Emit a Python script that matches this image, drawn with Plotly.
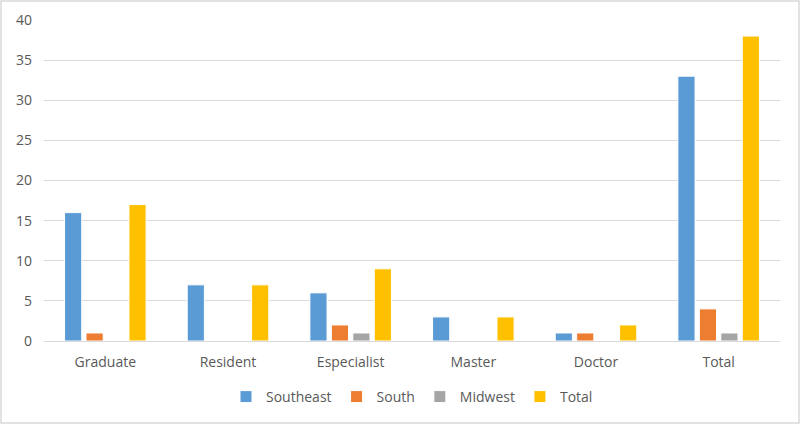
import plotly.graph_objects as go

WIDTH = 800
HEIGHT = 424

categories = ['Graduate', 'Resident', 'Especialist', 'Master', 'Doctor', 'Total']
southeast = [16, 7, 6, 3, 1, 33]
south = [1, 0, 2, 0, 1, 4]
midwest = [0, 0, 1, 0, 0, 1]
total = [17, 7, 9, 3, 2, 38]

series_names = ['Southeast', 'South', 'Midwest', 'Total']
colors = ['#5B9BD5', '#ED7D31', '#A5A5A5', '#FFC000']

ML, MR, MT, MB = 44, 20, 20, 83

fig = go.Figure()
for name, vals, col in zip(series_names, [southeast, south, midwest, total], colors):
    fig.add_trace(go.Bar(x=categories, y=vals, name=name,
                         marker=dict(color=col, line=dict(color='white', width=1))))

# light border round the whole chart
pw = WIDTH - ML - MR
ph = HEIGHT - MT - MB
fig.add_shape(type='rect', xref='paper', yref='paper',
              x0=(1 - ML) / pw, x1=(WIDTH - 1 - ML) / pw,
              y0=-(MB - 1) / ph, y1=1 + (MT - 1) / ph,
              line=dict(color='#D9D9D9', width=1.5))

fig.update_layout(
    width=WIDTH, height=HEIGHT,
    margin=dict(l=ML, r=MR, t=MT, b=MB, autoexpand=False),
    paper_bgcolor='white', plot_bgcolor='white',
    barmode='group', bargap=0.3, bargroupgap=0.2,
    font=dict(family='Open Sans', size=13, color='#595959'),
    showlegend=True,
    legend=dict(orientation='h', x=0.5, xanchor='center', y=-56 / ph, yanchor='middle',
                font=dict(size=14, color='#595959'), itemwidth=30,
                traceorder='normal'),
    xaxis=dict(showgrid=False, showline=True, linecolor='#D9D9D9', linewidth=1,
               ticks='', tickfont=dict(size=14), ticklabelstandoff=8, automargin=False),
    yaxis=dict(range=[0, 40], dtick=5, showgrid=True, gridcolor='#D9D9D9', gridwidth=1,
               zeroline=False, showline=False, ticks='', tickfont=dict(size=14),
               ticksuffix='\u00a0\u00a0\u00a0', automargin=False),
)

# drop the page's default body margin so the chart fills the window
fig.write_html("out.html", config={'displayModeBar': False},
               post_script="document.body.style.margin='0';")
